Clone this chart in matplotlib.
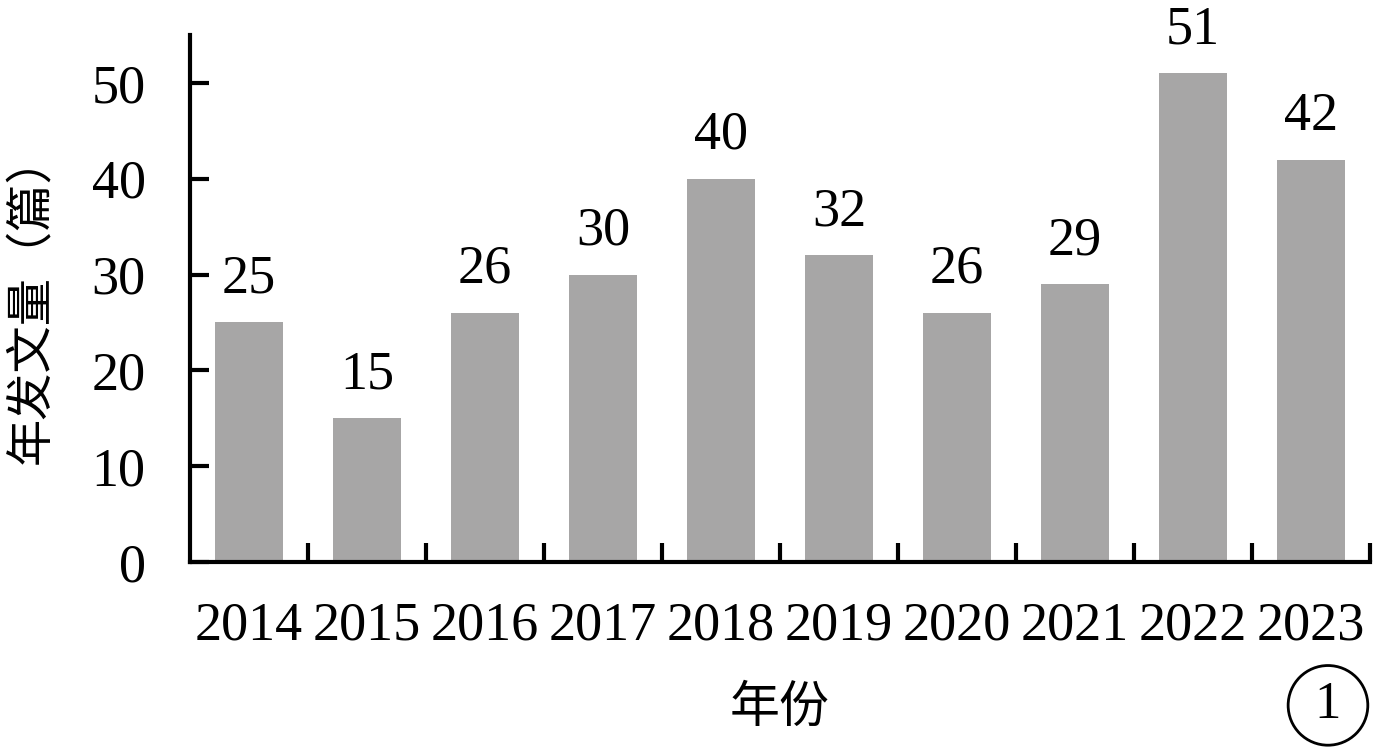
import matplotlib.pyplot as plt
import numpy as np

years = ["2014", "2015", "2016", "2017", "2018", "2019", "2020", "2021", "2022", "2023"]
counts = [25, 15, 26, 30, 40, 32, 26, 29, 51, 42]

SERIF = "Liberation Serif"
CJK = ["Noto Sans CJK SC", "DejaVu Sans"]

fig = plt.figure(figsize=(13.78, 7.48), dpi=100)
ax = fig.add_axes([0.1379, 0.2487, 0.8563, 0.7045])

x = np.arange(len(years))
ax.bar(x, counts, width=0.57, color="#a7a6a6")

for xi, c in zip(x, counts):
    ax.annotate(str(c), (xi, c), xytext=(0, 13), textcoords="offset points",
                ha="center", va="bottom", fontsize=39, family=SERIF)

ax.set_xlim(-0.5, len(years) - 0.5)
ax.set_ylim(0, 55)

ax.spines["top"].set_visible(False)
ax.spines["right"].set_visible(False)
for s in ("left", "bottom"):
    ax.spines[s].set_linewidth(3)

# labels at the bar centres, tick marks between bars
ax.set_xticks(x)
ax.set_xticklabels(years, fontsize=39, family=SERIF)
ax.tick_params(axis="x", which="major", length=0, pad=28)
ax.set_xticks(np.arange(len(years)) + 0.5, minor=True)
ax.tick_params(axis="x", which="minor", direction="in", length=14, width=3)

ax.set_yticks([0, 10, 20, 30, 40, 50])
ax.set_yticklabels(["0", "10", "20", "30", "40", "50"], fontsize=39, family=SERIF)
ax.tick_params(axis="y", direction="in", length=14, width=3, pad=32)

ax.set_xlabel("年份", fontsize=36, family=CJK, labelpad=22)
ax.set_ylabel("年发文量（篇）", fontsize=34, family=CJK, labelpad=26)

fig.text(0.9637, 0.057, "1", fontsize=38, family=SERIF, ha="center", va="center",
         bbox=dict(boxstyle="circle,pad=0.3", fc="white", ec="black", lw=2))

fig.savefig("out.png", dpi=100)
